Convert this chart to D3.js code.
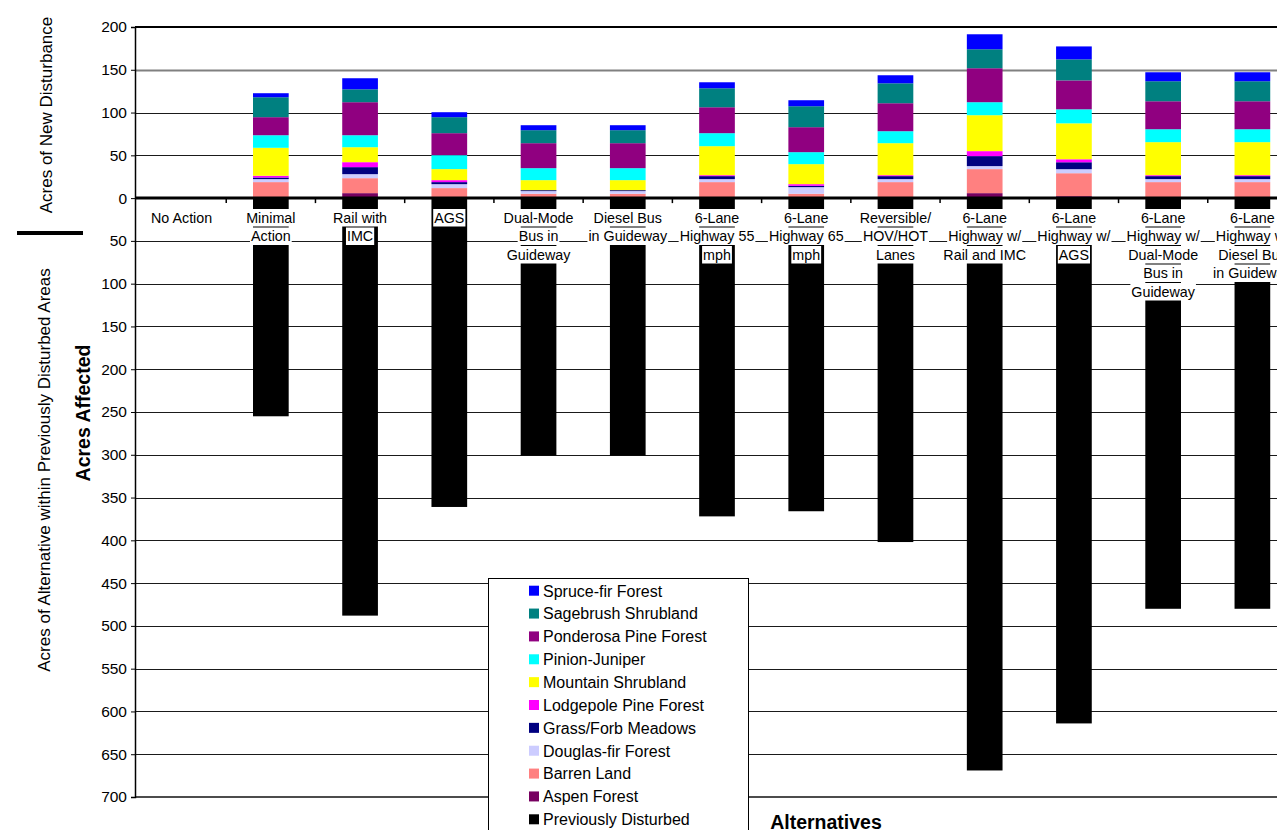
<!DOCTYPE html>
<html>
<head>
<meta charset="utf-8">
<script src="https://cdn.jsdelivr.net/npm/d3@7"></script>
<style>
  html, body { margin: 0; padding: 0; background: #fff; overflow: hidden; }
  svg { display: block; font-family: "Liberation Sans", Arial, sans-serif; }
</style>
</head>
<body>
<svg id="chart" width="1277" height="830"></svg>
<script>
// ---------- DATA ----------
const categories = [
  "No Action", "Minimal Action", "Rail with IMC", "AGS",
  "Dual-Mode Bus in Guideway", "Diesel Bus in Guideway",
  "6-Lane Highway 55 mph", "6-Lane Highway 65 mph", "Reversible/HOV/HOT Lanes",
  "6-Lane Highway w/ Rail and IMC", "6-Lane Highway w/ AGS",
  "6-Lane Highway w/ Dual-Mode Bus in Guideway", "6-Lane Highway w/ Diesel Bus in Guideway"
];
const categoryLines = [
  ["No Action"], ["Minimal", "Action"], ["Rail with", "IMC"], ["AGS"],
  ["Dual-Mode", "Bus in", "Guideway"], ["Diesel Bus", "in Guideway"],
  ["6-Lane", "Highway 55", "mph"], ["6-Lane", "Highway 65", "mph"],
  ["Reversible/", "HOV/HOT", "Lanes"],
  ["6-Lane", "Highway w/", "Rail and IMC"], ["6-Lane", "Highway w/", "AGS"],
  ["6-Lane", "Highway w/", "Dual-Mode", "Bus in", "Guideway"],
  ["6-Lane", "Highway w/", "Diesel Bus", "in Guideway"]
];

// stacked new disturbance (acres), bottom to top
const aspenForest         = [0, 0,    5.8,  0,    0,    0,    0,    0,    0,    5.8,  2.3,  0,    0];
const barrenLand          = [0, 18.7, 17.5, 11.7, 5.1,  5.1,  18.7, 5.1,  18.7, 28.1, 26.8, 18.7, 18.7];
const douglasFirForest    = [0, 3.5,  4.7,  4.6,  3.1,  3.1,  3.5,  7.7,  3.5,  3.5,  4.7,  3.5,  3.5];
const grassForbMeadows    = [0, 1.9,  8.2,  2.4,  1.1,  1.1,  3.5,  1.6,  3.5,  11.7, 8.1,  3.5,  3.5];
const lodgepolePineForest = [0, 2.0,  5.8,  2.3,  0,    0,    1.1,  1.9,  1.1,  5.8,  3.5,  1.1,  1.1];
const mountainShrubland   = [0, 32.7, 17.5, 12.9, 11.7, 11.7, 33.9, 23.4, 37.4, 42.0, 42.0, 38.6, 38.6];
const pinionJuniper       = [0, 14.7, 14.0, 16.3, 14.0, 14.0, 15.2, 14.0, 14.0, 15.2, 16.4, 15.1, 15.1];
const ponderosaPineForest = [0, 21.1, 38.6, 25.7, 29.2, 29.2, 30.3, 29.2, 32.7, 39.7, 33.8, 32.7, 32.7];
const sagebrushShrubland  = [0, 23.3, 15.1, 18.7, 15.2, 15.2, 22.2, 24.5, 23.3, 22.2, 24.6, 23.4, 23.4];
const spruceFirForest     = [0, 4.7,  12.9, 5.8,  5.8,  5.8,  7.0,  7.0,  9.4,  17.5, 15.1, 10.5, 10.5];
// previously disturbed areas (acres, plotted downward)
const previouslyDisturbed = [0, 255, 488, 361, 301, 301, 372, 366, 402, 669, 614, 480, 480];

const yTicks = [200, 150, 100, 50, 0, -50, -100, -150, -200, -250, -300, -350, -400,
                -450, -500, -550, -600, -650, -700];

const seriesNames = ["Aspen Forest", "Barren Land", "Douglas-fir Forest", "Grass/Forb Meadows",
  "Lodgepole Pine Forest", "Mountain Shrubland", "Pinion-Juniper", "Ponderosa Pine Forest",
  "Sagebrush Shrubland", "Spruce-fir Forest"];
const seriesValues = [aspenForest, barrenLand, douglasFirForest, grassForbMeadows,
  lodgepolePineForest, mountainShrubland, pinionJuniper, ponderosaPineForest,
  sagebrushShrubland, spruceFirForest];
const seriesColors = ["#770060", "#FF8080", "#CCCCFF", "#000080", "#FF00FF", "#FFFF00",
  "#00FFFF", "#900080", "#008080", "#0000FF"];
const disturbedName = "Previously Disturbed";
const disturbedColor = "#000000";

// ---------- LAYOUT ----------
const svg = d3.select("#chart");
const plotLeft = 135, plotRight = 1297, plotTop = 27, plotBottom = 797;

const x = d3.scaleBand().domain(categories).range([137, 1297])
  .paddingInner(0.6).paddingOuter(0.3);
const y = d3.scaleLinear().domain([-700, 200]).range([plotBottom, plotTop]);

// gridlines
const grid = svg.append("g");
yTicks.filter(v => v < 200 && v > -700 && v !== 0).forEach(v => {
  grid.append("line")
    .attr("x1", plotLeft).attr("x2", 1277)
    .attr("y1", Math.round(y(v)) + 0.5).attr("y2", Math.round(y(v)) + 0.5)
    .attr("stroke", v === 150 ? "#808080" : "#1a1a1a")
    .attr("stroke-width", v === 150 ? 2 : 1);
});
// top border
svg.append("line").attr("x1", plotLeft).attr("x2", 1277)
  .attr("y1", y(200)).attr("y2", y(200)).attr("stroke", "#000").attr("stroke-width", 2);
// bottom border
svg.append("line").attr("x1", plotLeft).attr("x2", 1277)
  .attr("y1", y(-700)).attr("y2", y(-700)).attr("stroke", "#111").attr("stroke-width", 1.5);

// stacked data
const rows = categories.map((c, i) => {
  const r = { cat: c };
  seriesNames.forEach((n, k) => r[n] = seriesValues[k][i]);
  return r;
});
const stack = d3.stack().keys(seriesNames)(rows);

// previously disturbed bars
svg.append("g").selectAll("rect").data(categories).join("rect")
  .attr("x", d => x(d)).attr("width", x.bandwidth())
  .attr("y", y(0))
  .attr("height", (d, i) => y(-previouslyDisturbed[i]) - y(0))
  .attr("fill", disturbedColor);

// stacked bars
const sg = svg.append("g");
stack.forEach((layer, k) => {
  sg.append("g").attr("fill", seriesColors[k]).selectAll("rect").data(layer).join("rect")
    .attr("x", d => x(d.data.cat)).attr("width", x.bandwidth())
    .attr("y", d => y(d[1]))
    .attr("height", d => Math.max(0, y(d[0]) - y(d[1])));
});

// zero axis line
svg.append("line").attr("x1", plotLeft).attr("x2", 1277)
  .attr("y1", y(0)).attr("y2", y(0)).attr("stroke", "#000").attr("stroke-width", 3);
// category boundary ticks
const step = x.step();
for (let i = 1; i < categories.length; i++) {
  const tx = 137 + step * i;
  svg.append("line").attr("x1", tx).attr("x2", tx)
    .attr("y1", y(0)).attr("y2", y(0) + 5).attr("stroke", "#000").attr("stroke-width", 1.5);
}

// category labels with white background per line
const lg = svg.append("g").attr("font-size", "14.3px").attr("fill", "#000");
categories.forEach((c, i) => {
  const cx = x(c) + x.bandwidth() / 2;
  categoryLines[i].forEach((t, j) => {
    const cy = 217.5 + 18.5 * j;
    const txt = lg.append("text").attr("x", cx).attr("y", cy + 5)
      .attr("text-anchor", "middle").text(t);
    const w = txt.node().getComputedTextLength();
    lg.insert("rect", () => txt.node())
      .attr("x", cx - w / 2 - 1).attr("y", cy - 8.5)
      .attr("width", w + 2).attr("height", 17.5).attr("fill", "#fff");
  });
});

// y axis
const yAxis = d3.axisLeft(y).tickValues(yTicks).tickSize(4).tickPadding(4)
  .tickFormat(v => String(Math.abs(v)));
const ya = svg.append("g").attr("transform", `translate(${plotLeft},0)`).call(yAxis);
ya.select(".domain").attr("stroke", "#000").attr("stroke-width", 1.5);
ya.selectAll(".tick line").attr("stroke", "#000");
ya.selectAll(".tick text").attr("font-size", "15.5px").attr("fill", "#000")
  .attr("font-family", "Liberation Sans, Arial, sans-serif");

// axis titles
svg.append("text").attr("transform", "translate(52,115) rotate(-90)")
  .attr("text-anchor", "middle").attr("font-size", "17px").text("Acres of New Disturbance");
svg.append("line").attr("x1", 17).attr("x2", 83).attr("y1", 233).attr("y2", 233)
  .attr("stroke", "#000").attr("stroke-width", 4);
svg.append("text").attr("transform", "translate(50,470) rotate(-90)")
  .attr("text-anchor", "middle").attr("font-size", "17px")
  .text("Acres of Alternative within Previously Disturbed Areas");
svg.append("text").attr("transform", "translate(90,413) rotate(-90)")
  .attr("text-anchor", "middle").attr("font-size", "19.5px").attr("font-weight", "bold")
  .text("Acres Affected");
svg.append("text").attr("x", 826).attr("y", 829)
  .attr("text-anchor", "middle").attr("font-size", "19.5px").attr("font-weight", "bold")
  .text("Alternatives");

// legend
const legendNames = [...seriesNames].reverse().concat([disturbedName]);
const legendColors = [...seriesColors].reverse().concat([disturbedColor]);
const leg = svg.append("g");
leg.append("rect").attr("x", 488.5).attr("y", 578.5).attr("width", 260).attr("height", 270)
  .attr("fill", "#fff").attr("stroke", "#000").attr("stroke-width", 1);
legendNames.forEach((n, i) => {
  const cy = 590.7 + 22.86 * i;
  leg.append("rect").attr("x", 529).attr("y", cy - 5).attr("width", 10).attr("height", 10)
    .attr("fill", legendColors[i]);
  leg.append("text").attr("x", 543).attr("y", cy + 5.8).attr("font-size", "16px").text(n);
});
</script>
</body>
</html>
